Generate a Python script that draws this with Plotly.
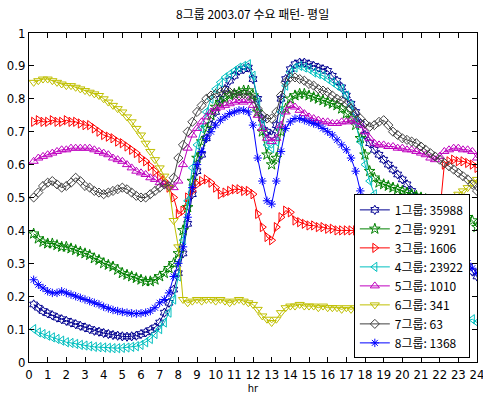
import plotly.graph_objects as go

# 15-minute sampling over a weekday, hour axis 0.25 .. 24
hours = [i / 4 for i in range(1, 97)]

names = ["1그룹: 35988", "2그룹: 9291", "3그룹: 1606", "4그룹: 23922",
         "5그룹: 1010", "6그룹: 341", "7그룹: 63", "8그룹: 1368"]

g1 = [0.175, 0.165, 0.155, 0.148, 0.142, 0.135, 0.13, 0.125,
      0.12, 0.115, 0.11, 0.105, 0.10, 0.095, 0.092, 0.088,
      0.085, 0.082, 0.08, 0.078, 0.077, 0.078, 0.08, 0.085,
      0.09, 0.097, 0.105, 0.12, 0.15, 0.18, 0.22, 0.27,
      0.33, 0.42, 0.51, 0.58, 0.63, 0.68, 0.72, 0.76,
      0.80, 0.83, 0.855, 0.87, 0.885, 0.89, 0.895, 0.86,
      0.80, 0.74, 0.70, 0.69, 0.72, 0.80, 0.86, 0.89,
      0.905, 0.91, 0.91, 0.905, 0.90, 0.895, 0.89, 0.885,
      0.87, 0.855, 0.835, 0.81, 0.785, 0.76, 0.725, 0.69,
      0.665, 0.645, 0.63, 0.615, 0.60, 0.585, 0.57, 0.555,
      0.54, 0.52, 0.50, 0.48, 0.46, 0.44, 0.42, 0.40,
      0.38, 0.36, 0.34, 0.33, 0.31, 0.29, 0.275, 0.26]

g2 = [0.39, 0.375, 0.365, 0.36, 0.36, 0.355, 0.35, 0.35,
      0.345, 0.34, 0.335, 0.33, 0.325, 0.315, 0.31, 0.30,
      0.295, 0.29, 0.28, 0.27, 0.265, 0.26, 0.255, 0.25,
      0.245, 0.245, 0.25, 0.26, 0.27, 0.285, 0.30, 0.33,
      0.40, 0.47, 0.55, 0.62, 0.67, 0.71, 0.75, 0.775,
      0.79, 0.80, 0.81, 0.815, 0.82, 0.825, 0.825, 0.81,
      0.76, 0.70, 0.63, 0.60, 0.62, 0.70, 0.77, 0.80,
      0.81, 0.815, 0.815, 0.81, 0.805, 0.80, 0.795, 0.79,
      0.785, 0.78, 0.77, 0.755, 0.74, 0.72, 0.68, 0.63,
      0.58, 0.56, 0.545, 0.54, 0.535, 0.53, 0.525, 0.52,
      0.515, 0.51, 0.505, 0.50, 0.495, 0.49, 0.485, 0.48,
      0.475, 0.47, 0.465, 0.46, 0.45, 0.44, 0.43, 0.41]

g3 = [0.73, 0.735, 0.73, 0.73, 0.735, 0.73, 0.73, 0.735,
      0.73, 0.73, 0.725, 0.72, 0.72, 0.71, 0.70, 0.69,
      0.685, 0.68, 0.67, 0.665, 0.655, 0.645, 0.635, 0.62,
      0.61, 0.595, 0.58, 0.565, 0.55, 0.53, 0.50, 0.45,
      0.46, 0.50, 0.52, 0.54, 0.55, 0.555, 0.545, 0.53,
      0.51, 0.515, 0.52, 0.525, 0.525, 0.52, 0.52, 0.51,
      0.45, 0.41, 0.38, 0.37, 0.41, 0.44, 0.46, 0.455,
      0.43, 0.425, 0.42, 0.415, 0.415, 0.41, 0.41, 0.405,
      0.405, 0.40, 0.40, 0.40, 0.40, 0.40, 0.395, 0.40,
      0.395, 0.395, 0.39, 0.39, 0.39, 0.385, 0.39, 0.385,
      0.385, 0.38, 0.385, 0.38, 0.38, 0.385, 0.38, 0.45,
      0.60, 0.61, 0.615, 0.61, 0.61, 0.605, 0.60, 0.59]

g4 = [0.10, 0.09, 0.085, 0.08, 0.075, 0.07, 0.065, 0.06,
      0.058, 0.055, 0.052, 0.05, 0.048, 0.046, 0.045, 0.044,
      0.043, 0.042, 0.042, 0.043, 0.044, 0.046, 0.048, 0.052,
      0.06, 0.07, 0.085, 0.10, 0.12, 0.15, 0.19, 0.26,
      0.37, 0.49, 0.59, 0.66, 0.71, 0.76, 0.80, 0.83,
      0.85, 0.865, 0.875, 0.885, 0.895, 0.90, 0.905, 0.87,
      0.79, 0.72, 0.66, 0.65, 0.67, 0.76, 0.84, 0.88,
      0.895, 0.90, 0.895, 0.89, 0.88, 0.875, 0.87, 0.86,
      0.85, 0.84, 0.83, 0.81, 0.78, 0.73, 0.67, 0.60,
      0.55, 0.51, 0.47, 0.42, 0.37, 0.32, 0.27, 0.23,
      0.19, 0.16, 0.14, 0.13, 0.125, 0.12, 0.12, 0.115,
      0.115, 0.115, 0.12, 0.12, 0.125, 0.125, 0.13, 0.12]

g5 = [0.61, 0.62, 0.625, 0.63, 0.635, 0.64, 0.645, 0.645,
      0.65, 0.65, 0.65, 0.65, 0.65, 0.645, 0.64, 0.635,
      0.63, 0.62, 0.615, 0.61, 0.60, 0.59, 0.58, 0.575,
      0.57, 0.56, 0.555, 0.545, 0.54, 0.535, 0.53, 0.55,
      0.60, 0.65, 0.69, 0.71, 0.73, 0.745, 0.76, 0.77,
      0.775, 0.78, 0.785, 0.79, 0.795, 0.79, 0.795, 0.78,
      0.75, 0.71, 0.68, 0.67, 0.68, 0.72, 0.76, 0.78,
      0.775, 0.765, 0.755, 0.745, 0.74, 0.735, 0.73, 0.73,
      0.725, 0.725, 0.73, 0.73, 0.735, 0.73, 0.72, 0.70,
      0.68, 0.665, 0.66, 0.66, 0.655, 0.655, 0.65, 0.65,
      0.645, 0.645, 0.64, 0.635, 0.63, 0.62, 0.615, 0.625,
      0.64, 0.645, 0.65, 0.65, 0.645, 0.645, 0.64, 0.62]

g6 = [0.85, 0.855, 0.86, 0.86, 0.855, 0.85, 0.845, 0.84,
      0.84, 0.835, 0.83, 0.825, 0.82, 0.815, 0.81, 0.80,
      0.79, 0.78, 0.77, 0.76, 0.745, 0.73, 0.71, 0.69,
      0.665, 0.64, 0.615, 0.59, 0.565, 0.53, 0.43, 0.35,
      0.19, 0.18, 0.185, 0.19, 0.185, 0.19, 0.19, 0.185,
      0.19, 0.185, 0.18, 0.185, 0.19, 0.185, 0.18, 0.175,
      0.16, 0.14, 0.13, 0.12, 0.13, 0.15, 0.165, 0.17,
      0.17, 0.175, 0.17, 0.17, 0.17, 0.165, 0.17, 0.165,
      0.165, 0.165, 0.16, 0.165, 0.16, 0.165, 0.16, 0.16,
      0.16, 0.16, 0.155, 0.16, 0.16, 0.155, 0.16, 0.16,
      0.16, 0.165, 0.17, 0.18, 0.20, 0.28, 0.38, 0.45,
      0.47, 0.49, 0.50, 0.51, 0.52, 0.53, 0.545, 0.555]

g7 = [0.50, 0.515, 0.535, 0.545, 0.55, 0.54, 0.53, 0.535,
      0.545, 0.56, 0.55, 0.535, 0.53, 0.52, 0.515, 0.51,
      0.515, 0.52, 0.525, 0.53, 0.525, 0.515, 0.505, 0.50,
      0.50, 0.51, 0.52, 0.53, 0.54, 0.535, 0.56, 0.62,
      0.66, 0.70, 0.73, 0.76, 0.78, 0.80, 0.81, 0.815,
      0.82, 0.825, 0.82, 0.815, 0.81, 0.815, 0.81, 0.80,
      0.77, 0.75, 0.74, 0.74, 0.76, 0.81, 0.85, 0.865,
      0.865, 0.86, 0.855, 0.845, 0.84, 0.83, 0.825, 0.82,
      0.81, 0.80, 0.795, 0.785, 0.77, 0.755, 0.74, 0.725,
      0.715, 0.72, 0.73, 0.735, 0.72, 0.70, 0.69, 0.68,
      0.675, 0.67, 0.665, 0.655, 0.645, 0.635, 0.625, 0.615,
      0.605, 0.595, 0.585, 0.575, 0.565, 0.555, 0.54, 0.52]

g8 = [0.25, 0.235, 0.225, 0.215, 0.21, 0.21, 0.215, 0.21,
      0.205, 0.20, 0.195, 0.19, 0.185, 0.18, 0.175, 0.168,
      0.163, 0.158, 0.155, 0.152, 0.15, 0.148, 0.147, 0.148,
      0.15, 0.155, 0.165, 0.18, 0.19, 0.21, 0.26, 0.30,
      0.35, 0.44, 0.53, 0.60, 0.64, 0.68, 0.70, 0.72,
      0.735, 0.745, 0.755, 0.76, 0.765, 0.765, 0.76, 0.72,
      0.62, 0.55, 0.49, 0.48, 0.55, 0.64, 0.71, 0.73,
      0.74, 0.74, 0.735, 0.73, 0.725, 0.72, 0.71, 0.70,
      0.69, 0.675, 0.66, 0.645, 0.62, 0.58, 0.52, 0.46,
      0.41, 0.37, 0.34, 0.32, 0.31, 0.30, 0.295, 0.29,
      0.29, 0.285, 0.285, 0.28, 0.28, 0.285, 0.29, 0.29,
      0.295, 0.30, 0.30, 0.305, 0.30, 0.30, 0.285, 0.27]

series = [g1, g2, g3, g4, g5, g6, g7, g8]
colors = ["#000090", "#008000", "#FF0000", "#00BFBF",
          "#BF00BF", "#BFBF00", "#404040", "#0000FF"]
symbols = ["hexagram-open", "star-open", "triangle-right-open", "triangle-left-open",
           "triangle-up-open", "triangle-down-open", "diamond-open", "asterisk-open"]
sizes = [7, 8, 8, 8, 8, 8, 7, 7]

x_ticks = list(range(0, 25))
y_ticks = [0, 0.1, 0.2, 0.3, 0.4, 0.5, 0.6, 0.7, 0.8, 0.9, 1]
y_labels = ["0", "0.1", "0.2", "0.3", "0.4", "0.5", "0.6", "0.7", "0.8", "0.9", "1"]

tick_font = dict(family="Liberation Sans Narrow, DejaVu Sans Condensed, Liberation Sans, Arial",
                 size=13, color="black")
kr_font = "Noto Sans CJK KR, Noto Sans, sans-serif"

fig = go.Figure()
for vals, name, col, sym, sz in zip(series, names, colors, symbols, sizes):
    fig.add_trace(go.Scatter(
        x=hours, y=vals, name=name, mode="lines+markers",
        line=dict(color=col, width=1),
        marker=dict(symbol=sym, size=sz, color=col, line=dict(color=col, width=1)),
    ))

axis_common = dict(showline=True, linecolor="black", linewidth=1, mirror="allticks",
                   ticks="inside", ticklen=5, tickcolor="black", tickwidth=1,
                   showgrid=False, zeroline=False, tickfont=tick_font,
                   ticklabeloverflow="allow")

fig.update_layout(
    width=483, height=396,
    margin=dict(l=29, r=6, t=33, b=34, autoexpand=False),
    paper_bgcolor="white", plot_bgcolor="white",
    title=dict(text="8그룹 2003.07 수요 패턴- 평일", x=0.523, xanchor="center",
               y=1 - 15 / 396, yanchor="middle", yref="container",
               font=dict(family=kr_font, size=12, color="black")),
    xaxis=dict(range=[0, 24], tickvals=x_ticks, ticktext=[str(v) for v in x_ticks],
               title=dict(text="hr", standoff=2,
                          font=dict(family=tick_font["family"], size=11, color="black")),
               **axis_common),
    yaxis=dict(range=[0, 1], tickvals=y_ticks, ticktext=y_labels, **axis_common),
    legend=dict(x=0.984, y=0.011, xanchor="right", yanchor="bottom",
                bgcolor="white", bordercolor="black", borderwidth=1,
                font=dict(family=kr_font, size=12, color="black"),
                tracegroupgap=0, itemwidth=30),
    showlegend=True,
)

fig.write_html("out.html")
